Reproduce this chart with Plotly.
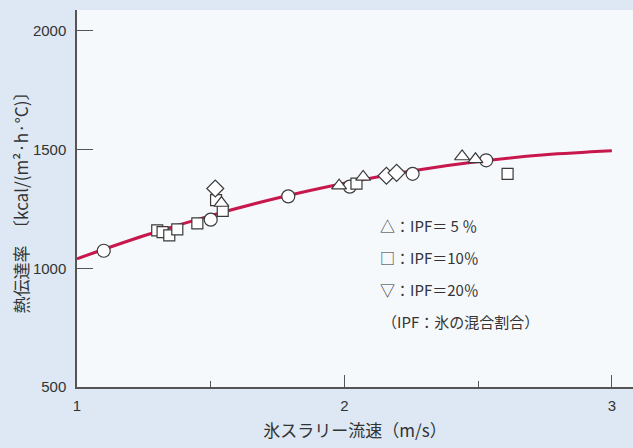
import plotly.graph_objects as go

# fitted curve
curve_x = [1.0, 1.25, 1.5, 1.75, 2.0, 2.25, 2.5, 2.75, 3.0]
curve_y = [1040, 1137, 1222, 1296, 1358, 1410, 1450, 1478, 1495]

circle_x = [1.10, 1.50, 1.79, 2.02, 2.255, 2.53]
circle_y = [1074, 1205, 1303, 1344, 1398, 1455]

square_x = [1.30, 1.32, 1.345, 1.375, 1.45, 1.545, 1.52, 2.045, 2.61]
square_y = [1160, 1152, 1139, 1164, 1189, 1242, 1287, 1357, 1398]

tri_x = [1.54, 1.98, 2.07, 2.44, 2.49]
tri_y = [1275, 1348, 1385, 1471, 1459]

diamond_x = [1.517, 2.157, 2.195]
diamond_y = [1336, 1390, 1402]

legend_lines = ["△：IPF＝ 5 ％", "□：IPF＝10％", "▽：IPF＝20％", "（IPF：氷の混合割合）"]

x_ticks = [1, 2, 3]
y_ticks = [500, 1000, 1500, 2000]

JP = "Noto Sans CJK JP"
NUM = "Liberation Sans Narrow, Liberation Sans, Arial"
edge = "#3a3a3a"

fig = go.Figure()
fig.add_trace(go.Scatter(x=curve_x, y=curve_y, mode="lines",
                         line=dict(color="#c8174c", width=3, shape="spline"),
                         showlegend=False, hoverinfo="skip"))

def pts(x, y, sym, size):
    fig.add_trace(go.Scatter(x=x, y=y, mode="markers", showlegend=False,
                             marker=dict(symbol=sym, size=size, color="white",
                                         line=dict(color=edge, width=1.2))))

pts(circle_x, circle_y, "circle", 13)
pts(square_x, square_y, "square", 11)
pts(tri_x, tri_y, "triangle-up", 13)
pts(diamond_x, diamond_y, "diamond", 13)

W, H = 633, 448
L, R, T, B = 77, 0, 10, 61
pw, ph = W - L - R, H - T - B

for i, t in enumerate(legend_lines):
    px = 378 if i < 3 else 380
    py = 225 + i * 32
    fig.add_annotation(x=(px - L) / pw, y=1 - (py - T) / ph, xref="paper", yref="paper",
                       text=t, showarrow=False, xanchor="left", yanchor="middle",
                       font=dict(family=JP, size=15, color="#333"))

fig.update_layout(
    width=W, height=H,
    margin=dict(l=L, r=R, t=T, b=B),
    paper_bgcolor="#dde8f4",
    plot_bgcolor="#f6f9fc",
    xaxis=dict(range=[1, 3.079], tickvals=x_ticks, ticktext=["1", "2", "3"],
               ticks="inside", ticklen=12, tickwidth=1.2, tickcolor="#555",
               showline=True, linecolor="#555", linewidth=1.5, showgrid=False, zeroline=False,
               tickfont=dict(family=NUM, size=15, color="#333"), ticklabelstandoff=4,
               minor=dict(tickvals=[1.5, 2.5], ticks="inside", ticklen=6, tickcolor="#555"),
               title=dict(text="氷スラリー流速（m/s）", font=dict(family=JP, size=17, color="#333"),
                          standoff=12)),
    yaxis=dict(range=[500, 2088], tickvals=y_ticks,
               ticks="inside", ticklen=16, tickwidth=1.2, tickcolor="#555",
               showline=True, linecolor="#555", linewidth=1.5, showgrid=False, zeroline=False,
               tickfont=dict(family=NUM, size=15, color="#333"), ticklabelstandoff=6,
               title=dict(text="熱伝達率　〔kcal/(m²·h·°C)〕",
                          font=dict(family=JP, size=17, color="#333"), standoff=0)),
)

fig.write_html("out.html")
